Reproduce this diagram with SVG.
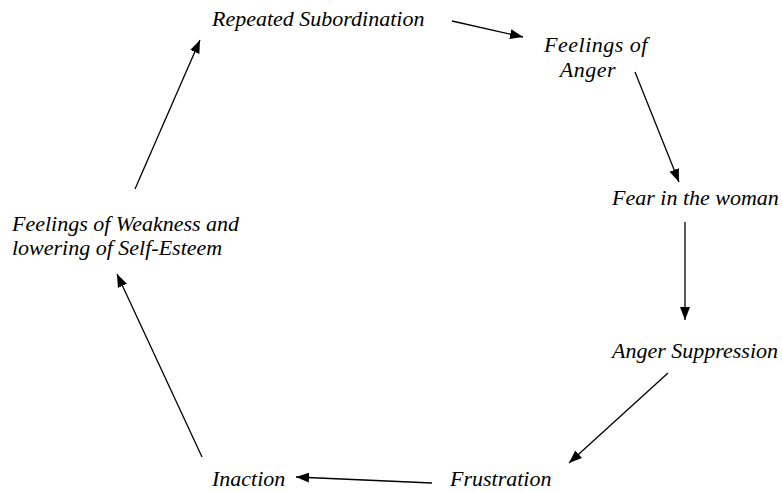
<svg xmlns="http://www.w3.org/2000/svg" width="782" height="492" viewBox="0 0 782 492">
<style>
.lbl{font-family:'Liberation Serif',serif;font-style:italic;font-size:22px;fill:#000}
.edge{stroke:#000;stroke-width:1.3;fill:none;marker-end:url(#ah)}
</style>
<defs>
<marker id="ah" markerUnits="userSpaceOnUse" markerWidth="14" markerHeight="12" refX="13" refY="5" orient="auto" viewBox="0 0 14 10">
<path d="M0,0 L13,5 L0,10 Z" fill="#000"/>
</marker>
</defs>
<rect width="782" height="492" fill="#fff"/>
<g id="connectors">
<line class="edge" x1="452" y1="21" x2="523" y2="37"/>
<line class="edge" x1="635" y1="72" x2="679" y2="182"/>
<line class="edge" x1="685" y1="222" x2="685" y2="320"/>
<line class="edge" x1="668" y1="373" x2="569" y2="463"/>
<line class="edge" x1="432" y1="483" x2="296" y2="477"/>
<line class="edge" x1="202" y1="457" x2="117" y2="274"/>
<line class="edge" x1="135" y1="189" x2="200" y2="40"/>
</g>
<g id="n-repeated"><text class="lbl" x="212" y="26">Repeated Subordination</text></g>
<g id="n-anger"><text class="lbl" x="596" y="52" text-anchor="middle" letter-spacing="0.5">Feelings of</text><text class="lbl" x="588" y="77" text-anchor="middle" letter-spacing="0.5">Anger</text></g>
<g id="n-fear"><text class="lbl" x="612" y="205">Fear in the woman</text></g>
<g id="n-suppression"><text class="lbl" x="612" y="358">Anger Suppression</text></g>
<g id="n-frustration"><text class="lbl" x="450" y="486">Frustration</text></g>
<g id="n-inaction"><text class="lbl" x="212" y="486">Inaction</text></g>
<g id="n-weakness"><text class="lbl" x="12" y="231">Feelings of Weakness and</text><text class="lbl" x="12" y="255">lowering of Self-Esteem</text></g>
</svg>
